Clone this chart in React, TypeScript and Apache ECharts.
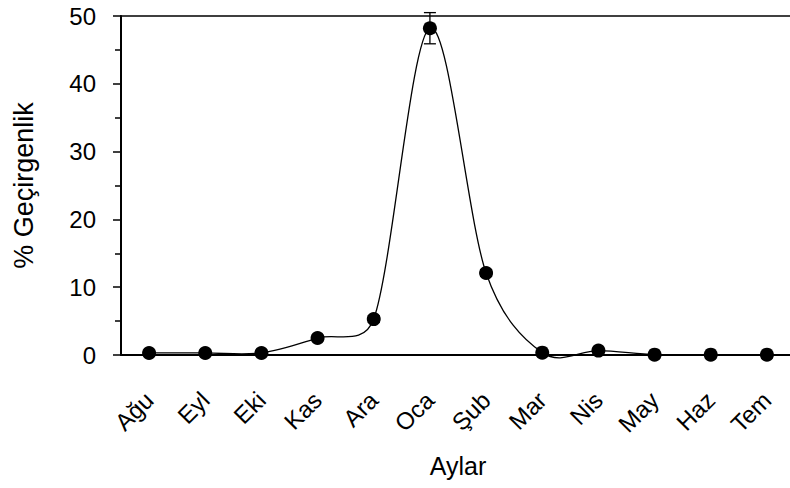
import React, { useEffect, useRef } from "react";
import * as echarts from "echarts";

const months = ["Ağu", "Eyl", "Eki", "Kas", "Ara", "Oca", "Şub", "Mar", "Nis", "May", "Haz", "Tem"];
const values = [0.3, 0.3, 0.3, 2.5, 5.3, 48.2, 12.1, 0.35, 0.65, 0.05, 0.05, 0.05];
const errors = [0.1, 0.1, 0.1, 0.2, 0.5, 2.3, 0.5, 0.1, 0.1, 0.05, 0.05, 0.05];
const yMin = 0;
const yMax = 50;
const yStep = 10;

const FONT = "Liberation Sans, Arial, sans-serif";

export default function App() {
  const ref = useRef<HTMLDivElement>(null);
  useEffect(() => {
    if (!ref.current) return;
    const chart = echarts.init(ref.current, null, { renderer: "svg" });
    const n = values.length;
    const P = (api: any, j: number) => {
      const k = Math.max(0, Math.min(n - 1, j));
      return api.coord([k, values[k]]);
    };
    const dist = (a: number[], b: number[]) => Math.hypot(b[0] - a[0], b[1] - a[1]);
    const ctrl = (base: number[], from: number[], to: number[], segLen: number, sign: number) => {
      const vx = to[0] - from[0];
      const vy = to[1] - from[1];
      const len = Math.hypot(vx, vy);
      if (len === 0) return [base[0], base[1]];
      const L = Math.min(len / 6, segLen / 2);
      return [base[0] + (sign * vx * L) / len, base[1] + (sign * vy * L) / len];
    };

    chart.setOption({
      animation: false,
      backgroundColor: "#fff",
      textStyle: { fontFamily: FONT, color: "#000" },
      grid: { left: 121, width: 674, top: 16, height: 339, containLabel: false },
      xAxis: [
        {
          type: "category",
          data: months,
          boundaryGap: true,
          axisLine: { show: true, lineStyle: { color: "#000", width: 2 } },
          axisTick: { show: false },
          axisLabel: {
            rotate: 45,
            fontSize: 24,
            fontFamily: FONT,
            color: "#000",
            margin: 41,
            interval: 0,
          },
          name: "Aylar",
          nameLocation: "middle",
          nameGap: 98,
          nameTextStyle: { fontSize: 25, fontFamily: FONT, color: "#000" },
        },
        {
          type: "category",
          data: months,
          position: "top",
          axisLine: { show: true, lineStyle: { color: "#000", width: 1.5 } },
          axisTick: { show: false },
          axisLabel: { show: false },
        },
      ],
      yAxis: {
        type: "value",
        min: yMin,
        max: yMax,
        interval: yStep,
        axisLine: { show: true, lineStyle: { color: "#000", width: 2 } },
        axisTick: { show: true, inside: false, length: 8, lineStyle: { color: "#000", width: 1.5 } },
        minorTick: { show: true, splitNumber: 2, length: 6, lineStyle: { color: "#000", width: 1.5 } },
        splitLine: { show: false },
        axisLabel: { fontSize: 24, fontFamily: FONT, color: "#000", margin: 25 },
        name: "% Geçirgenlik",
        nameLocation: "middle",
        nameGap: 84,
        nameTextStyle: { fontSize: 27, fontFamily: FONT, color: "#000" },
      },
      series: [
        {
          type: "custom",
          name: "curve",
          z: 2,
          data: months.slice(0, n - 1).map((_, i) => [i, values[i]]),
          renderItem: (params: any, api: any) => {
            const i = params.dataIndex;
            const p0 = P(api, i - 1);
            const p1 = P(api, i);
            const p2 = P(api, i + 1);
            const p3 = P(api, i + 2);
            const d = dist(p1, p2);
            const c1 = ctrl(p1, p0, p2, d, 1);
            const c2 = ctrl(p2, p1, p3, d, -1);
            return {
              type: "bezierCurve",
              shape: {
                x1: p1[0], y1: p1[1],
                x2: p2[0], y2: p2[1],
                cpx1: c1[0], cpy1: c1[1],
                cpx2: c2[0], cpy2: c2[1],
              },
              style: { fill: "none", stroke: "#000", lineWidth: 1.3 },
            };
          },
        },
        {
          type: "custom",
          name: "err",
          z: 3,
          data: months.map((_, i) => [i, values[i], errors[i]]),
          renderItem: (params: any, api: any) => {
            const i = params.dataIndex;
            const top = api.coord([i, values[i] + errors[i]]);
            const bot = api.coord([i, Math.max(0, values[i] - errors[i])]);
            const hw = 6;
            const st = { stroke: "#000", lineWidth: 1.3 };
            return {
              type: "group",
              children: [
                { type: "line", shape: { x1: top[0], y1: top[1], x2: bot[0], y2: bot[1] }, style: st },
                { type: "line", shape: { x1: top[0] - hw, y1: top[1], x2: top[0] + hw, y2: top[1] }, style: st },
                { type: "line", shape: { x1: bot[0] - hw, y1: bot[1], x2: bot[0] + hw, y2: bot[1] }, style: st },
              ],
            };
          },
        },
        {
          type: "scatter",
          name: "points",
          z: 4,
          data: values,
          symbol: "circle",
          symbolSize: 14,
          itemStyle: { color: "#000", opacity: 1 },
        },
      ],
    });
    return () => chart.dispose();
  }, []);
  return (
    <div style={{ width: 790, height: 488, position: "absolute", left: 0, top: 0, overflow: "hidden" }}>
      <div ref={ref} style={{ width: 800, height: 488 }} />
    </div>
  );
}
